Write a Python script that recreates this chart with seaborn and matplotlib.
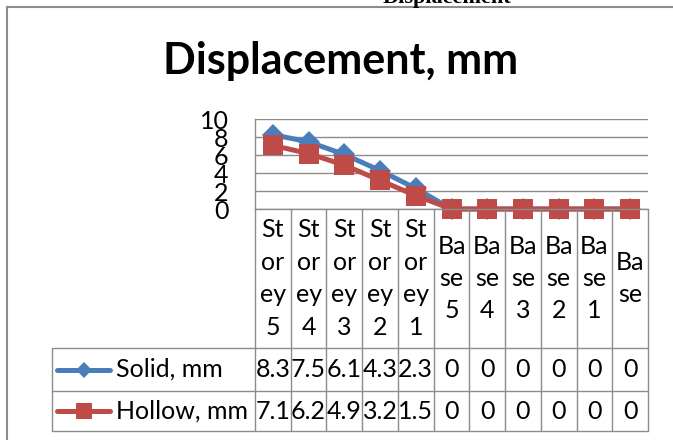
import pandas as pd
import seaborn as sns
import matplotlib.pyplot as plt
import matplotlib.transforms as mtransforms
from matplotlib.lines import Line2D

# Данные графика
categories = ["Storey 5", "Storey 4", "Storey 3", "Storey 2", "Storey 1",
              "Base 5", "Base 4", "Base 3", "Base 2", "Base 1", "Base"]
solid = [8.3, 7.5, 6.1, 4.3, 2.3, 0, 0, 0, 0, 0, 0]
hollow = [7.1, 6.2, 4.9, 3.2, 1.5, 0, 0, 0, 0, 0, 0]
series_names = ["Solid, mm", "Hollow, mm"]
y_ticks = [0, 2, 4, 6, 8, 10]

colors = ["#4a7ebb", "#be4b48"]
markers = ["D", "s"]
grid_color = "#8c8c8c"

sns.set_style("white")
plt.rcParams["font.family"] = ["Lato", "DejaVu Sans"]
plt.rcParams["text.color"] = "black"
plt.rcParams["ytick.color"] = "black"

df = pd.DataFrame({
    "pos": list(range(len(categories))) * 2,
    "value": solid + hollow,
    "series": [series_names[0]] * len(solid) + [series_names[1]] * len(hollow),
})

W, H = 673, 440
fig = plt.figure(figsize=(W / 100, H / 100), dpi=100)


def fx(px):
    return px / W


def fy(py):
    return 1 - py / H


ax = fig.add_axes([fx(255), fy(209), fx(648) - fx(255), fy(119.5) - fy(209)])

sns.lineplot(data=df, x="pos", y="value", hue="series", style="series",
             markers=markers, dashes=False, palette=colors, sort=False,
             legend=False, linewidth=3.6, markersize=13, markeredgewidth=0,
             ax=ax, estimator=None)
for ln, ms in zip(ax.lines, [11, 14]):
    ln.set_markersize(ms)
    ln.set_clip_on(False)

ax.set_xlim(-0.5, len(categories) - 0.5)
ax.set_ylim(0, 10)
ax.set_yticks(y_ticks)
ax.set_yticklabels([str(t) for t in y_ticks], fontsize=18)
ax.tick_params(axis="y", length=0, pad=19)
ax.set_xticks([])
ax.set_xlabel("")
ax.set_ylabel("")
ax.yaxis.grid(True, color=grid_color, linewidth=1)
for side in ["top", "right"]:
    ax.spines[side].set_visible(False)
for side in ["left", "bottom"]:
    ax.spines[side].set_color(grid_color)
    ax.spines[side].set_linewidth(1)

# Заголовок и обрезанная надпись сверху
fig.text(fx(341), fy(61), "Displacement, mm", ha="center", va="center",
         fontsize=31, fontweight="bold")
fig.text(fx(447), fy(3), "Displacement", ha="center", va="baseline",
         fontsize=16, fontweight="bold", family=["Liberation Serif"])

# Рамка диаграммы
fig.add_artist(Line2D([fx(6.7), 1], [fy(7), fy(7)], color="#8c8c8c", lw=1.5))
fig.add_artist(Line2D([fx(6.7), fx(6.7)], [fy(7), 0], color="#8c8c8c", lw=1.5))

# Таблица данных под осью
blend = mtransforms.blended_transform_factory(ax.transData, fig.transFigure)
n = len(categories)
for i in range(n + 1):
    fig.add_artist(Line2D([i - 0.5, i - 0.5], [fy(209), fy(431)],
                          transform=blend, color=grid_color, lw=1))
for py in [348, 391, 431]:
    fig.add_artist(Line2D([fx(51.7), fx(648)], [fy(py), fy(py)],
                          color=grid_color, lw=1))
fig.add_artist(Line2D([fx(51.7), fx(51.7)], [fy(348), fy(431)],
                      color=grid_color, lw=1))


def wrap(label):
    parts = []
    for word in label.split():
        parts += [word[k:k + 2] for k in range(0, len(word), 2)]
    return "\n".join(parts)


for i, cat in enumerate(categories):
    ax.text(i, fy(278.5), wrap(cat), transform=blend, ha="center",
            va="center", multialignment="center", fontsize=18, linespacing=1.5)

rows_y = [369.5, 411]
for name, vals, c, m, ms, ry in zip(series_names, [solid, hollow], colors,
                                     markers, [8, 11], rows_y):
    fig.add_artist(Line2D([fx(57), fx(84), fx(110)], [fy(ry)] * 3, color=c,
                          lw=3.6, marker=m, markersize=ms, markevery=[1],
                          markeredgewidth=0))
    fig.text(fx(116), fy(ry), name, ha="left", va="center", fontsize=18)
    for i, v in enumerate(vals):
        ax.text(i, fy(ry), f"{v:g}", transform=blend, ha="center",
                va="center", fontsize=18)

fig.savefig("out.png", dpi=100)
